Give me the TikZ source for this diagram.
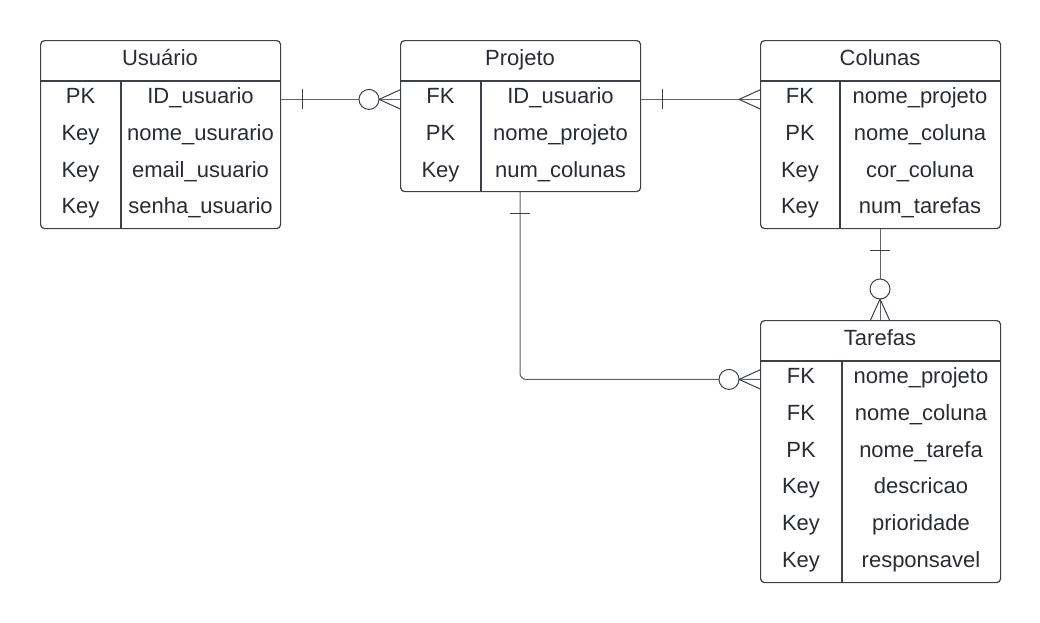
\documentclass[tikz,border=0pt]{standalone}
\usepackage{fontspec}
\setmainfont{Liberation Sans}
\usetikzlibrary{calc}
\definecolor{boxline}{HTML}{3A414A}
\definecolor{txtcol}{HTML}{282C33}
\definecolor{conncol}{HTML}{5E646E}
\begin{document}
\begin{tikzpicture}[x=1pt,y=-1pt,
  tbl/.style={draw=boxline, line width=1.2pt, rounded corners=4pt, minimum width=240pt, inner sep=0pt, anchor=north west},
  sep/.style={draw=boxline, line width=1.1pt},
  txt/.style={text=txtcol, anchor=base, inner sep=0pt, font=\fontsize{22}{26}\selectfont},
  conn/.style={draw=conncol, line width=1pt},
  ermark/.style={draw=boxline, line width=1pt},
  circ/.style={draw=boxline, line width=1pt, fill=white}]
\fill[white] (0,0) rectangle (1040,622);
\useasboundingbox (0,0) rectangle (1040,622);

% ---------- Usuario ----------
\node[tbl, minimum height=188pt] (usu) at (40,40) {};
\draw[sep] (40,81) -- (280,81);
\draw[sep] (121,81) -- (121,228);
\node[txt] (usuH) at (160,65) {Usuário};
\node[txt] (usuK1) at (80.5,103.6) {PK};
\node[txt] (usuN1) at (200.5,103.6) {ID\_usuario};
\node[txt] (usuK2) at (80.5,140.35) {Key};
\node[txt] (usuN2) at (200.5,140.35) {nome\_usurario};
\node[txt] (usuK3) at (80.5,177.1) {Key};
\node[txt] (usuN3) at (200.5,177.1) {email\_usuario};
\node[txt] (usuK4) at (80.5,213.85) {Key};
\node[txt] (usuN4) at (200.5,213.85) {senha\_usuario};

% ---------- Projeto ----------
\node[tbl, minimum height=151pt] (proj) at (400,40) {};
\draw[sep] (400,81) -- (640,81);
\draw[sep] (481,81) -- (481,191);
\node[txt] (projH) at (520,65) {Projeto};
\node[txt] (projK1) at (440.5,103.6) {FK};
\node[txt] (projN1) at (560.5,103.6) {ID\_usuario};
\node[txt] (projK2) at (440.5,140.35) {PK};
\node[txt] (projN2) at (560.5,140.35) {nome\_projeto};
\node[txt] (projK3) at (440.5,177.1) {Key};
\node[txt] (projN3) at (560.5,177.1) {num\_colunas};

% ---------- Colunas ----------
\node[tbl, minimum height=188pt] (col) at (760,40) {};
\draw[sep] (760,81) -- (1000,81);
\draw[sep] (840,81) -- (840,228);
\node[txt] (colH) at (880,65) {Colunas};
\node[txt] (colK1) at (800,103.6) {FK};
\node[txt] (colN1) at (920,103.6) {nome\_projeto};
\node[txt] (colK2) at (800,140.35) {PK};
\node[txt] (colN2) at (920,140.35) {nome\_coluna};
\node[txt] (colK3) at (800,177.1) {Key};
\node[txt] (colN3) at (920,177.1) {cor\_coluna};
\node[txt] (colK4) at (800,213.85) {Key};
\node[txt] (colN4) at (920,213.85) {num\_tarefas};

% ---------- Tarefas ----------
\node[tbl, minimum height=262pt] (tar) at (760,320) {};
\draw[sep] (760,361) -- (1000,361);
\draw[sep] (842,361) -- (842,582);
\node[txt] (tarH) at (880,345) {Tarefas};
\node[txt] (tarK1) at (801,383.6) {FK};
\node[txt] (tarN1) at (921,383.6) {nome\_projeto};
\node[txt] (tarK2) at (801,420.35) {FK};
\node[txt] (tarN2) at (921,420.35) {nome\_coluna};
\node[txt] (tarK3) at (801,457.1) {PK};
\node[txt] (tarN3) at (921,457.1) {nome\_tarefa};
\node[txt] (tarK4) at (801,493.85) {Key};
\node[txt] (tarN4) at (921,493.85) {descricao};
\node[txt] (tarK5) at (801,530.6) {Key};
\node[txt] (tarN5) at (921,530.6) {prioridade};
\node[txt] (tarK6) at (801,567.35) {Key};
\node[txt] (tarN6) at (921,567.35) {responsavel};

% ---------- row reference coordinates ----------
\coordinate (rowA) at (0,99.4);
\coordinate (rowT) at (0,379.4);
\coordinate (colX) at (880,0);
\coordinate (projX) at (520,0);

% ---------- Usuario -> Projeto (one to zero-or-many) ----------
\draw[conn] (usu.east |- rowA) -- (proj.west |- rowA);
\draw[ermark] ($(usu.east |- rowA)+(21,-10)$) -- ++(0,20);
\draw[ermark] ($(proj.west |- rowA)+(-21,0)$) -- ($(proj.west |- rowA)+(0,-9.5)$);
\draw[ermark] ($(proj.west |- rowA)+(-21,0)$) -- ($(proj.west |- rowA)+(0,9.5)$);
\draw[circ] ($(proj.west |- rowA)+(-31,0)$) circle[radius=10pt];

% ---------- Projeto -> Colunas (one to many) ----------
\draw[conn] (proj.east |- rowA) -- (col.west |- rowA);
\draw[ermark] ($(proj.east |- rowA)+(21,-10)$) -- ++(0,20);
\draw[ermark] ($(col.west |- rowA)+(-21,0)$) -- ($(col.west |- rowA)+(0,-9.5)$);
\draw[ermark] ($(col.west |- rowA)+(-21,0)$) -- ($(col.west |- rowA)+(0,9.5)$);

% ---------- Projeto -> Tarefas (one to zero-or-many) ----------
\draw[conn, rounded corners=6pt] (proj.south -| projX) |- (tar.west |- rowT);
\draw[ermark] ($(proj.south -| projX)+(-10,21)$) -- ++(20,0);
\draw[ermark] ($(tar.west |- rowT)+(-21,0)$) -- ($(tar.west |- rowT)+(0,-9.5)$);
\draw[ermark] ($(tar.west |- rowT)+(-21,0)$) -- ($(tar.west |- rowT)+(0,9.5)$);
\draw[circ] ($(tar.west |- rowT)+(-31,0)$) circle[radius=10pt];

% ---------- Colunas -> Tarefas (one to zero-or-many) ----------
\draw[conn] (col.south -| colX) -- (tar.north -| colX);
\draw[ermark] ($(col.south -| colX)+(-10,21)$) -- ++(20,0);
\draw[ermark] ($(tar.north -| colX)+(0,-21)$) -- ($(tar.north -| colX)+(-9.5,0)$);
\draw[ermark] ($(tar.north -| colX)+(0,-21)$) -- ($(tar.north -| colX)+(9.5,0)$);
\draw[circ] ($(tar.north -| colX)+(0,-31)$) circle[radius=10pt];
\end{tikzpicture}
\end{document}
